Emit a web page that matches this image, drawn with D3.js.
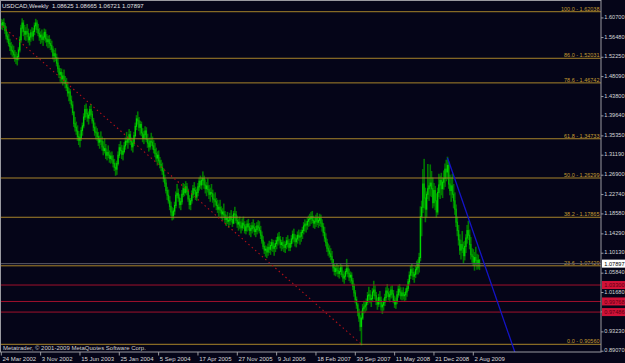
<!DOCTYPE html>
<html>
<head>
<meta charset="utf-8">
<script src="https://cdn.jsdelivr.net/npm/d3@7"></script>
<style>
html, body { margin: 0; padding: 0; background: #050518; }
svg { display: block; }
text { font-family: "Liberation Sans", Arial, sans-serif; }
</style>
</head>
<body>
<div id="chart"></div>
<script>
// USDCAD weekly bars, metatrader look

const symbol = "USDCAD,Weekly";
const lastQuote = [1.08625, 1.08665, 1.06721, 1.07897];
const firstWeek = "24 Mar 2002";
const firstOpen = 1.595;

// weekly highs / lows / closes
const highs = [
  1.603,1.601,1.604,1.594,1.587,1.575,1.570,1.560,1.553,1.548,
  1.545,1.536,1.532,1.528,1.542,1.565,1.590,1.604,1.600,1.590,
  1.585,1.592,1.582,1.572,1.580,1.585,1.583,1.595,1.603,1.600,
  1.592,1.583,1.576,1.580,1.572,1.582,1.580,1.570,1.566,1.568,
  1.560,1.556,1.544,1.536,1.540,1.528,1.520,1.503,1.497,1.496,
  1.488,1.494,1.480,1.476,1.468,1.455,1.452,1.438,1.426,1.405,
  1.392,1.382,1.374,1.362,1.356,1.370,1.380,1.400,1.418,1.421,
  1.410,1.404,1.416,1.420,1.405,1.390,1.380,1.372,1.368,1.360,
  1.352,1.361,1.350,1.340,1.346,1.334,1.322,1.331,1.320,1.316,
  1.318,1.310,1.302,1.294,1.298,1.318,1.334,1.340,1.332,1.326,
  1.338,1.348,1.360,1.350,1.366,1.362,1.348,1.345,1.360,1.380,
  1.396,1.404,1.392,1.384,1.382,1.368,1.362,1.372,1.370,1.356,
  1.345,1.348,1.358,1.350,1.342,1.336,1.326,1.318,1.320,1.306,
  1.300,1.294,1.282,1.268,1.258,1.242,1.236,1.222,1.210,1.198,
  1.196,1.210,1.232,1.248,1.238,1.226,1.218,1.235,1.250,1.248,
  1.254,1.250,1.238,1.224,1.218,1.234,1.246,1.252,1.242,1.238,
  1.250,1.262,1.266,1.262,1.275,1.266,1.258,1.252,1.260,1.246,
  1.240,1.248,1.236,1.226,1.230,1.218,1.214,1.206,1.214,1.200,
  1.196,1.206,1.190,1.182,1.188,1.178,1.186,1.192,1.182,1.190,
  1.199,1.190,1.180,1.174,1.178,1.168,1.174,1.178,1.168,1.162,
  1.170,1.173,1.164,1.160,1.166,1.172,1.164,1.158,1.166,1.170,
  1.168,1.158,1.146,1.136,1.124,1.116,1.114,1.120,1.126,1.124,
  1.130,1.128,1.120,1.128,1.134,1.142,1.145,1.136,1.128,1.134,
  1.126,1.124,1.134,1.138,1.130,1.126,1.138,1.148,1.152,1.140,
  1.138,1.146,1.150,1.144,1.150,1.156,1.166,1.172,1.168,1.176,
  1.180,1.184,1.188,1.190,1.180,1.176,1.182,1.186,1.178,1.184,
  1.182,1.172,1.164,1.156,1.142,1.130,1.120,1.116,1.110,1.104,
  1.084,1.076,1.072,1.078,1.074,1.068,1.076,1.074,1.062,1.058,
  1.066,1.087,1.074,1.066,1.060,1.058,1.046,1.034,1.020,1.006,
  0.992,0.980,0.966,0.976,0.990,0.997,0.996,1.002,1.016,1.027,
  1.020,1.010,1.024,1.040,1.030,1.016,1.004,1.012,1.018,1.006,
  0.994,1.002,1.012,1.026,1.033,1.024,1.018,1.028,1.030,1.020,
  1.008,1.004,1.018,1.030,1.033,1.026,1.020,1.026,1.016,1.024,
  1.030,1.044,1.060,1.072,1.076,1.068,1.060,1.072,1.083,1.086,
  1.100,1.200,1.212,1.280,1.302,1.240,1.232,1.291,1.262,1.290,
  1.276,1.262,1.250,1.244,1.228,1.240,1.270,1.266,1.272,1.262,
  1.277,1.292,1.300,1.3066,1.296,1.268,1.262,1.270,1.248,1.230,
  1.204,1.178,1.160,1.140,1.128,1.147,1.124,1.126,1.140,1.160,
  1.169,1.150,1.134,1.110,1.108,1.102,1.113,1.098,1.096,1.08665
];
const lows = [
  1.585,1.583,1.588,1.575,1.563,1.556,1.548,1.538,1.530,1.526,
  1.522,1.515,1.510,1.507,1.518,1.535,1.556,1.578,1.570,1.562,
  1.560,1.568,1.556,1.550,1.558,1.563,1.560,1.572,1.584,1.577,
  1.570,1.560,1.553,1.556,1.549,1.560,1.556,1.548,1.544,1.545,
  1.540,1.535,1.520,1.514,1.516,1.505,1.492,1.480,1.472,1.470,
  1.464,1.468,1.458,1.452,1.440,1.430,1.424,1.415,1.400,1.375,
  1.365,1.358,1.345,1.336,1.331,1.345,1.356,1.372,1.390,1.396,
  1.386,1.380,1.392,1.396,1.382,1.366,1.356,1.348,1.345,1.334,
  1.328,1.336,1.324,1.314,1.318,1.306,1.303,1.308,1.298,1.296,
  1.298,1.288,1.280,1.270,1.272,1.292,1.308,1.316,1.306,1.303,
  1.318,1.326,1.336,1.328,1.340,1.336,1.324,1.320,1.334,1.352,
  1.368,1.380,1.366,1.358,1.355,1.342,1.338,1.348,1.342,1.330,
  1.322,1.326,1.334,1.326,1.318,1.310,1.300,1.292,1.296,1.286,
  1.280,1.272,1.256,1.246,1.232,1.218,1.210,1.196,1.184,1.174,
  1.176,1.186,1.200,1.222,1.214,1.200,1.196,1.208,1.224,1.226,
  1.230,1.228,1.214,1.198,1.196,1.210,1.222,1.230,1.218,1.216,
  1.226,1.238,1.242,1.240,1.250,1.242,1.232,1.226,1.234,1.220,
  1.214,1.224,1.212,1.202,1.206,1.196,1.190,1.182,1.190,1.178,
  1.174,1.180,1.168,1.162,1.166,1.158,1.164,1.170,1.160,1.166,
  1.178,1.168,1.158,1.152,1.156,1.146,1.152,1.156,1.146,1.144,
  1.150,1.152,1.142,1.138,1.146,1.150,1.142,1.138,1.144,1.150,
  1.146,1.134,1.124,1.112,1.102,1.096,1.093,1.098,1.104,1.100,
  1.108,1.106,1.098,1.106,1.112,1.120,1.124,1.114,1.108,1.112,
  1.106,1.104,1.112,1.116,1.108,1.108,1.116,1.124,1.128,1.118,
  1.116,1.124,1.130,1.122,1.128,1.134,1.144,1.150,1.148,1.154,
  1.160,1.162,1.166,1.168,1.158,1.156,1.160,1.164,1.158,1.162,
  1.160,1.150,1.140,1.128,1.118,1.106,1.098,1.094,1.088,1.082,
  1.064,1.056,1.054,1.058,1.052,1.049,1.056,1.052,1.042,1.038,
  1.046,1.058,1.052,1.044,1.040,1.036,1.024,1.010,0.996,0.984,
  0.968,0.956,0.936,0.9056,0.960,0.974,0.976,0.980,0.992,1.002,
  0.996,0.988,1.000,1.012,1.004,0.992,0.982,0.988,0.994,0.980,
  0.973,0.980,0.990,1.000,1.010,1.002,0.998,1.006,1.008,0.996,
  0.986,0.984,0.994,1.008,1.012,1.004,1.002,1.004,1.000,1.002,
  1.010,1.022,1.036,1.048,1.054,1.046,1.040,1.050,1.058,1.058,
  1.062,1.086,1.140,1.190,1.200,1.170,1.180,1.220,1.216,1.226,
  1.224,1.200,1.204,1.196,1.180,1.186,1.224,1.220,1.228,1.222,
  1.240,1.246,1.258,1.262,1.242,1.228,1.214,1.222,1.200,1.186,
  1.160,1.140,1.120,1.100,1.090,1.104,1.081,1.088,1.104,1.124,
  1.132,1.112,1.090,1.083,1.076,1.066,1.078,1.068,1.070,1.06721
];
const closes = [
  1.592,1.597,1.590,1.580,1.568,1.561,1.552,1.545,1.537,1.534,
  1.528,1.520,1.518,1.524,1.538,1.560,1.585,1.596,1.578,1.572,
  1.578,1.574,1.560,1.566,1.575,1.568,1.578,1.590,1.596,1.582,
  1.574,1.566,1.570,1.561,1.566,1.576,1.562,1.556,1.560,1.552,
  1.548,1.540,1.526,1.530,1.522,1.510,1.498,1.486,1.490,1.476,
  1.482,1.472,1.466,1.458,1.446,1.448,1.430,1.420,1.404,1.380,
  1.372,1.364,1.352,1.344,1.350,1.365,1.375,1.394,1.410,1.402,
  1.392,1.398,1.410,1.400,1.386,1.372,1.362,1.360,1.352,1.340,
  1.345,1.342,1.330,1.322,1.326,1.312,1.318,1.312,1.305,1.310,
  1.302,1.294,1.286,1.282,1.294,1.312,1.328,1.322,1.314,1.320,
  1.332,1.342,1.340,1.346,1.356,1.342,1.330,1.338,1.354,1.374,
  1.390,1.386,1.372,1.378,1.360,1.348,1.356,1.364,1.346,1.338,
  1.330,1.342,1.340,1.332,1.324,1.316,1.306,1.312,1.300,1.292,
  1.286,1.278,1.262,1.252,1.236,1.226,1.214,1.202,1.190,1.182,
  1.192,1.204,1.226,1.230,1.220,1.206,1.212,1.228,1.240,1.232,
  1.244,1.234,1.218,1.206,1.214,1.228,1.240,1.236,1.222,1.232,
  1.244,1.256,1.248,1.258,1.262,1.248,1.240,1.246,1.238,1.228,
  1.232,1.230,1.218,1.216,1.212,1.204,1.196,1.200,1.194,1.186,
  1.190,1.184,1.174,1.176,1.170,1.172,1.180,1.174,1.166,1.186,
  1.184,1.172,1.164,1.168,1.160,1.156,1.166,1.162,1.150,1.158,
  1.164,1.158,1.150,1.154,1.160,1.156,1.148,1.152,1.160,1.156,
  1.150,1.140,1.128,1.116,1.108,1.110,1.104,1.114,1.110,1.118,
  1.124,1.112,1.116,1.122,1.128,1.136,1.130,1.120,1.124,1.118,
  1.114,1.120,1.128,1.122,1.114,1.122,1.132,1.142,1.134,1.126,
  1.132,1.140,1.136,1.138,1.146,1.150,1.160,1.164,1.162,1.170,
  1.174,1.176,1.180,1.172,1.166,1.170,1.176,1.168,1.172,1.176,
  1.166,1.158,1.146,1.134,1.124,1.112,1.106,1.100,1.094,1.088,
  1.070,1.062,1.068,1.064,1.058,1.062,1.070,1.056,1.048,1.052,
  1.062,1.068,1.058,1.050,1.054,1.042,1.030,1.016,1.002,0.990,
  0.974,0.962,0.944,0.962,0.982,0.986,0.990,0.996,1.010,1.012,
  1.002,1.004,1.018,1.022,1.010,0.998,0.992,1.006,1.000,0.986,
  0.990,0.996,1.006,1.020,1.016,1.008,1.012,1.022,1.014,1.000,
  0.992,0.998,1.012,1.024,1.018,1.010,1.016,1.010,1.012,1.018,
  1.026,1.040,1.054,1.066,1.060,1.052,1.056,1.066,1.070,1.080,
  1.092,1.180,1.200,1.250,1.220,1.196,1.228,1.240,1.246,1.252,
  1.240,1.210,1.236,1.214,1.190,1.232,1.248,1.258,1.240,1.254,
  1.262,1.282,1.276,1.290,1.250,1.236,1.246,1.228,1.214,1.196,
  1.168,1.150,1.130,1.108,1.120,1.112,1.096,1.116,1.134,1.150,
  1.140,1.120,1.098,1.094,1.082,1.092,1.086,1.080,1.08625,1.07897
];

const dateTicks = ["24 Mar 2002", "3 Nov 2002", "15 Jun 2003", "25 Jan 2004", "5 Sep 2004",
  "17 Apr 2005", "27 Nov 2005", "9 Jul 2006", "18 Feb 2007", "30 Sep 2007",
  "11 May 2008", "21 Dec 2008", "2 Aug 2009"];
const priceTicks = [1.60700, 1.56480, 1.52250, 1.48090, 1.43800, 1.39640, 1.35350, 1.31190,
  1.26900, 1.22740, 1.18580, 1.14290, 1.10130, 1.05840, 1.01680, 0.97520, 0.93230, 0.89070];

// fibonacci retracement between the 2007 low and the 2002 high
const fibLow = 0.90560;
const fibHigh = 1.62038;
const fibLevels = [0.0, 23.6, 38.2, 50.0, 61.8, 78.6, 86.0, 100.0];

const redLevels = [1.03300, 0.99768, 0.97486];
const redTrend = [["31 Mar 2002", 1.589], ["4 Nov 2007", 0.9056]];
const blueTrend = [["8 Mar 2009", 1.3066], ["5 Jul 2009", 1.1770]];

const width = 625, height = 363;
const plot = {left: 1, top: 1, right: 601, bottom: 352};
const bg = "#050518";
const fs = 6;

const parse = d3.timeParse("%d %b %Y");
const start = parse(firstWeek);

const x = d3.scaleTime()
    .domain([parse("24 Mar 2002"), parse("2 Aug 2009")])
    .range([1.3, 473.3]);
const y = d3.scaleLinear()
    .domain([0.88905, 1.64341])
    .range([plot.bottom, plot.top]);

const bars = highs.map((h, i) => ({
    date: d3.timeDay.offset(start, 7 * i),
    open: i ? closes[i - 1] : firstOpen,
    high: h,
    low: lows[i],
    close: closes[i]
}));

const svg = d3.select("#chart").append("svg")
    .attr("width", width)
    .attr("height", height);

svg.append("rect")
    .attr("width", width).attr("height", height)
    .attr("fill", bg);

svg.append("clipPath").attr("id", "clip")
    .append("rect")
    .attr("x", plot.left).attr("y", plot.top)
    .attr("width", plot.right - plot.left)
    .attr("height", plot.bottom - plot.top);

const g = svg.append("g").attr("clip-path", "url(#clip)");

// bars: range in darker green, open-close in bright green
g.selectAll(".wick")
    .data(bars)
    .join("rect")
    .attr("class", "wick")
    .attr("x", d => x(d.date) - 0.8)
    .attr("width", 1.6)
    .attr("y", d => y(d.high) - 1)
    .attr("height", d => Math.max(1, y(d.low) - y(d.high) + 2))
    .attr("fill", "#007800");

g.selectAll(".body")
    .data(bars)
    .join("rect")
    .attr("class", "body")
    .attr("x", d => x(d.date) - 0.6)
    .attr("width", 1.2)
    .attr("y", d => y(Math.max(d.open, d.close)) - 0.5)
    .attr("height", d => Math.max(1.5, Math.abs(y(d.open) - y(d.close)) + 1))
    .attr("fill", d => d.close >= d.open ? "#00d800" : "#00b800");

// fib levels
const fibs = fibLevels.map(l => ({level: l, price: fibLow + (fibHigh - fibLow) * l / 100}));

g.selectAll(".fib")
    .data(fibs)
    .join("line")
    .attr("class", "fib")
    .attr("x1", plot.left).attr("x2", plot.right)
    .attr("y1", d => y(d.price)).attr("y2", d => y(d.price))
    .attr("stroke", "#a8842a")
    .attr("stroke-width", 1);

g.selectAll(".fibLabel")
    .data(fibs)
    .join("text")
    .attr("class", "fibLabel")
    .attr("x", 599.5)
    .attr("y", d => y(d.price) - 1.2)
    .attr("text-anchor", "end")
    .attr("font-size", 5.5)
    .attr("fill", "#c49c32")
    .text(d => `${d.level.toFixed(1)} - ${d.price.toFixed(5)}`);

// red horizontal lines
g.selectAll(".red")
    .data(redLevels)
    .join("line")
    .attr("class", "red")
    .attr("x1", plot.left).attr("x2", plot.right)
    .attr("y1", d => y(d)).attr("y2", d => y(d))
    .attr("stroke", "#a0102c");

// bid line
g.append("line")
    .attr("x1", plot.left).attr("x2", plot.right)
    .attr("y1", y(lastQuote[3])).attr("y2", y(lastQuote[3]))
    .attr("stroke", "#5a5a66");

// trend lines
const redPts = redTrend.map(p => [x(parse(p[0])), y(p[1])]);
g.append("line")
    .attr("x1", redPts[0][0]).attr("y1", redPts[0][1])
    .attr("x2", redPts[1][0]).attr("y2", redPts[1][1])
    .attr("stroke", "#b01018")
    .attr("stroke-width", 1.1)
    .attr("stroke-dasharray", "1.5,3");

const bluePts = blueTrend.map(p => [x(parse(p[0])), y(p[1])]);
const slope = (bluePts[1][1] - bluePts[0][1]) / (bluePts[1][0] - bluePts[0][0]);
const blueEndX = bluePts[0][0] + (plot.bottom + 5 - bluePts[0][1]) / slope;
g.append("line")
    .attr("x1", bluePts[0][0]).attr("y1", bluePts[0][1])
    .attr("x2", blueEndX).attr("y2", plot.bottom + 5)
    .attr("stroke", "#1414c8")
    .attr("stroke-width", 1.3);

// frame
svg.append("rect")
    .attr("x", plot.left - 0.5).attr("y", plot.top - 0.5)
    .attr("width", plot.right - plot.left + 0.5)
    .attr("height", plot.bottom - plot.top + 0.5)
    .attr("fill", "none")
    .attr("stroke", "#9a9aa0");

// header and footer
svg.append("text")
    .attr("x", 2).attr("y", 8.3)
    .attr("font-size", fs)
    .attr("fill", "#e0e0e0")
    .attr("xml:space", "preserve")
    .text(`${symbol}  ${lastQuote.map(v => v.toFixed(5)).join(" ")}`);

svg.append("text")
    .attr("x", 3).attr("y", 349.5)
    .attr("font-size", fs)
    .attr("fill", "#d0d0d0")
    .text("Metatrader, © 2001-2009 MetaQuotes Software Corp.");

// price axis
const py = svg.append("g");
py.selectAll("line")
    .data(priceTicks)
    .join("line")
    .attr("x1", plot.right).attr("x2", plot.right + 2.5)
    .attr("y1", d => y(d)).attr("y2", d => y(d))
    .attr("stroke", "#9a9aa0");
py.selectAll("text")
    .data(priceTicks)
    .join("text")
    .attr("x", plot.right + 3.3)
    .attr("y", d => y(d) + 1.2)
    .attr("font-size", 5.6)
    .attr("fill", "#d8d8d8")
    .text(d => d.toFixed(5));

// price boxes
const boxes = [{v: lastQuote[3], fill: "#ffffff", color: "#000000"}]
    .concat(redLevels.map(v => ({v: v, fill: "#d01238", color: "#5a0010"})));
const bx = svg.selectAll(".box")
    .data(boxes)
    .join("g")
    .attr("class", "box");
bx.append("rect")
    .attr("x", plot.right + 1)
    .attr("y", d => y(d.v) - 4)
    .attr("width", width - plot.right - 1)
    .attr("height", 8)
    .attr("fill", d => d.fill);
bx.append("text")
    .attr("x", plot.right + 3.3)
    .attr("y", d => y(d.v) + 2.1)
    .attr("font-size", 5.6)
    .attr("fill", d => d.color)
    .text(d => d.v.toFixed(5));

// date axis
const dx = svg.append("g");
dx.selectAll("line")
    .data(dateTicks)
    .join("line")
    .attr("x1", d => x(parse(d))).attr("x2", d => x(parse(d)))
    .attr("y1", plot.bottom).attr("y2", plot.bottom + 3.5)
    .attr("stroke", "#9a9aa0");
dx.selectAll("text")
    .data(dateTicks)
    .join("text")
    .attr("x", d => x(parse(d)) + 1.2)
    .attr("y", 360.5)
    .attr("font-size", fs)
    .attr("fill", "#d8d8d8")
    .text(d => d);
</script>
</body>
</html>
